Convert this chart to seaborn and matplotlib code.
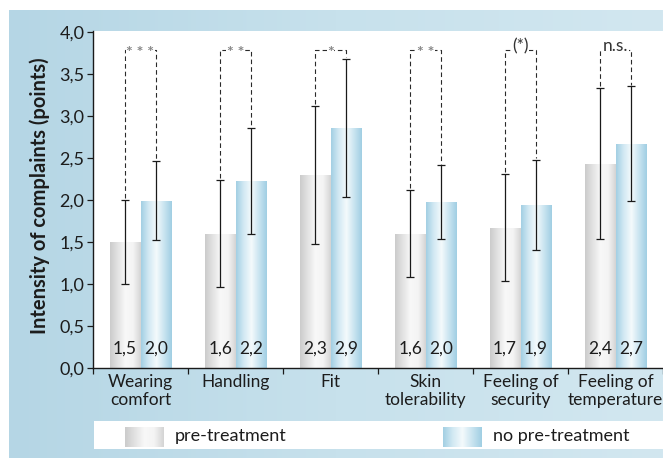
import numpy as np
import pandas as pd
import matplotlib
matplotlib.use("Agg")
import matplotlib.pyplot as plt
from matplotlib.colors import LinearSegmentedColormap
import seaborn as sns

# ---- data -------------------------------------------------------------
categories = ["Wearing\ncomfort", "Handling", "Fit", "Skin\ntolerability",
              "Feeling of\nsecurity", "Feeling of\ntemperature"]
groups = ["pre-treatment", "no pre-treatment"]
pre_mean = [1.50, 1.60, 2.30, 1.60, 1.67, 2.43]
pre_sd = [0.50, 0.64, 0.82, 0.52, 0.64, 0.90]
nopre_mean = [1.99, 2.22, 2.86, 1.97, 1.94, 2.67]
nopre_sd = [0.47, 0.63, 0.82, 0.44, 0.54, 0.68]
significance = ["* * *", "* *", "*", "* *", "(*)", "n.s."]
y_ticks = [0.0, 0.5, 1.0, 1.5, 2.0, 2.5, 3.0, 3.5, 4.0]

sns.set_style("ticks")
plt.rcParams["font.family"] = ["Lato", "DejaVu Sans"]
plt.rcParams["lines.scale_dashes"] = False
TXT = "#1c1c1c"

df = pd.DataFrame({
    "category": categories * 2,
    "group": [groups[0]] * len(categories) + [groups[1]] * len(categories),
    "mean": pre_mean + nopre_mean,
})

W, H = 663, 458
fig = plt.figure(figsize=(W / 100, H / 100), dpi=100)
fig.patch.set_facecolor("white")


def fx(px):
    return px / W


def fy(py):
    return 1 - py / H


grad = np.linspace(0, 1, 256)[None, :]
grey_cmap = LinearSegmentedColormap.from_list(
    "grey_bar", ["#cbcbcb", "#e2e2e2", "#f8f8f8", "#f4f4f4", "#d4d4d4"])
blue_cmap = LinearSegmentedColormap.from_list(
    "blue_bar", ["#a2cfe3", "#d2e9f3", "#f4fafc", "#c9e4f0", "#a0cee3"])

# light blue panel behind the chart
bg = fig.add_axes([fx(9), 0, 1 - fx(9), fy(10)], zorder=-2)
bg_cmap = LinearSegmentedColormap.from_list("panel", ["#b5d6e5", "#c7e1ec", "#d2e7f0"])
bg.imshow(grad, cmap=bg_cmap, aspect="auto", extent=[0, 1, 0, 1])
bg.axis("off")

# ---- main axes --------------------------------------------------------
ax = fig.add_axes([fx(93), fy(368), 1 - fx(93), (368 - 31) / H])
ax.set_facecolor("white")
sns.barplot(data=df, x="category", y="mean", hue="group", hue_order=groups,
            palette=["#e6e6e6", "#c4e2ef"], saturation=1, width=0.65,
            errorbar=None, legend=False, linewidth=0, ax=ax, zorder=2)

sds = [pre_sd, nopre_sd]
cmaps = [grey_cmap, blue_cmap]
centers = []
for container, sd, cmap in zip(ax.containers, sds, cmaps):
    cx_list = []
    for bar, s in zip(container, sd):
        x0, w, h = bar.get_x(), bar.get_width(), bar.get_height()
        im = ax.imshow(grad, cmap=cmap, aspect="auto", extent=[x0, x0 + w, 0, h],
                       interpolation="bilinear", zorder=2.5)
        im.set_clip_path(bar)
        cx = x0 + w / 2
        cx_list.append(cx)
        ax.errorbar(cx, h, yerr=s, fmt="none", ecolor="#1a1a1a", elinewidth=0.9,
                    capsize=3, capthick=0.9, zorder=3)
        ax.text(cx, 0.23, f"{h:.1f}".replace(".", ","), ha="center", va="center",
                fontsize=12.5, color=TXT, zorder=4)
    centers.append(cx_list)

# significance brackets
y_br = 3.78
for i, sig in enumerate(significance):
    xl, xr = centers[0][i], centers[1][i]
    tl = pre_mean[i] + pre_sd[i] + 0.02
    tr = nopre_mean[i] + nopre_sd[i] + 0.02
    ax.plot([xl, xl, xr, xr], [tl, y_br, y_br, tr], color="#2a2a2a", lw=0.8,
            ls=(0, (3.3, 2.2)), zorder=3)
    is_star = sig.replace(" ", "").strip("*") == ""
    ax.text((xl + xr) / 2, y_br - (0.03 if is_star else -0.05), sig, ha="center",
            va="center", fontsize=11.5 if is_star else 12.5,
            color="#858585" if is_star else "#333333", zorder=4,
            fontweight="bold" if is_star else "normal",
            bbox=dict(facecolor="white", edgecolor="none", pad=0.4))

ax.set_xlim(-0.5, len(categories) - 0.5)
ax.set_ylim(0, 4.01)
ax.set_yticks(y_ticks)
ax.set_yticklabels([f"{t:.1f}".replace(".", ",") for t in y_ticks])
ax.set_xticks(range(len(categories)))
ax.set_xticklabels(categories, linespacing=1.15)
ax.set_xticks(np.arange(-0.5, len(categories), 1.0), minor=True)
ax.tick_params(axis="y", length=4.3, width=0.9, pad=2, labelsize=13,
               colors="#1a1a1a", labelcolor=TXT)
ax.tick_params(axis="x", which="major", length=0, pad=4, labelsize=12.5, labelcolor=TXT)
ax.tick_params(axis="x", which="minor", length=4.3, width=0.9, color="#1a1a1a")
for side in ["top", "right"]:
    ax.spines[side].set_visible(False)
for side in ["left", "bottom"]:
    ax.spines[side].set_color("#1a1a1a")
    ax.spines[side].set_linewidth(1.0)
ax.set_xlabel("")
ax.set_ylabel("Intensity of complaints (points)", fontsize=14.5, fontweight="bold",
              color=TXT)
ax.yaxis.set_label_coords((50 - 93) / 570, 0.51)

# ---- legend strip -----------------------------------------------------
lg = fig.add_axes([fx(94), fy(449), 1 - fx(94), 28 / H])
lg.set_facecolor("white")
for s in lg.spines.values():
    s.set_visible(False)
lg.set_xticks([])
lg.set_yticks([])
for (x0, x1), cmap, label in zip([(125, 164), (443, 482)], cmaps, groups):
    lg.imshow(grad, cmap=cmap, aspect="auto", extent=[x0, x1, 447, 427],
              interpolation="bilinear")
    lg.text(x1 + 11, 436.5, label, ha="left", va="center", fontsize=13, color=TXT)
lg.set_xlim(94, 663)
lg.set_ylim(449, 421)

fig.savefig("out.png", dpi=100)
